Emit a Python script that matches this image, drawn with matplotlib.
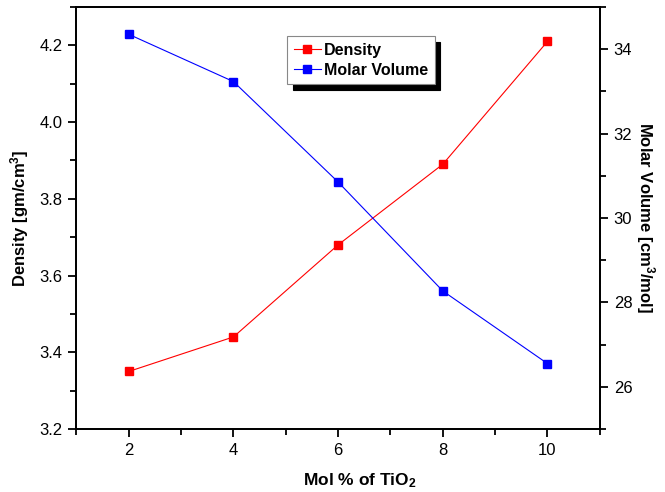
import matplotlib
matplotlib.use("Agg")
import matplotlib.pyplot as plt
from matplotlib.ticker import MultipleLocator

plt.rcParams['font.family'] = ['Liberation Sans', 'DejaVu Sans']
plt.rcParams['mathtext.fontset'] = 'custom'
plt.rcParams['mathtext.rm'] = 'Liberation Sans'
plt.rcParams['mathtext.bf'] = 'Liberation Sans:bold'
plt.rcParams['mathtext.default'] = 'bf'

mol_tio2 = [2, 4, 6, 8, 10]
density = [3.35, 3.44, 3.68, 3.89, 4.21]
molar_volume = [34.35, 33.23, 30.85, 28.27, 26.55]

fig = plt.figure(figsize=(6.65, 4.92), dpi=100)
ax = fig.add_axes([0.115, 0.128, 0.787, 0.858])
ax2 = ax.twinx()

l1, = ax.plot(mol_tio2, density, color='red', lw=0.8, marker='s', ms=5.5,
              label='Density')
l2, = ax2.plot(mol_tio2, molar_volume, color='blue', lw=0.8, marker='s', ms=5.5,
               label='Molar Volume')

ax.set_xlim(1, 11)
ax.set_ylim(3.2, 4.3)
ax2.set_ylim(25, 35)

ax.xaxis.set_major_locator(MultipleLocator(2))
ax.xaxis.set_minor_locator(MultipleLocator(1))
ax.yaxis.set_major_locator(MultipleLocator(0.2))
ax.yaxis.set_minor_locator(MultipleLocator(0.1))
ax2.yaxis.set_major_locator(MultipleLocator(2))
ax2.yaxis.set_minor_locator(MultipleLocator(1))
ax.yaxis.set_major_formatter(plt.FormatStrFormatter('%.1f'))

for a in (ax, ax2):
    for s in a.spines.values():
        s.set_linewidth(1.3)
    a.tick_params(which='major', direction='out', length=6, width=1.3,
                  labelsize=12, pad=4)
    a.tick_params(which='minor', direction='out', length=4, width=1.3)

ax.set_xlabel('Mol % of TiO$_2$', fontsize=12.5, fontweight='bold')
ax.xaxis.set_label_coords(0.541, -0.1)
ax.set_ylabel('Density [gm/cm$^3$]', fontsize=12, fontweight='bold', labelpad=6)
ax2.set_ylabel('Molar Volume [cm$^3$/mol]', fontsize=12, fontweight='bold',
               rotation=270, labelpad=18)

# boxed legend with a solid black drop shadow
leg = ax.legend(handles=[l1, l2], loc='upper left',
                bbox_to_anchor=(0.403, 0.93), fancybox=False,
                shadow={'color': 'black', 'alpha': 1.0, 'ox': 4, 'oy': -4},
                edgecolor='#888888', framealpha=1,
                prop={'weight': 'bold', 'size': 11.5},
                handlelength=1.7, handletextpad=0.2, borderpad=0.4,
                labelspacing=0.3, borderaxespad=0)
leg.get_frame().set_linewidth(0.8)

fig.savefig('out.png', dpi=100)
